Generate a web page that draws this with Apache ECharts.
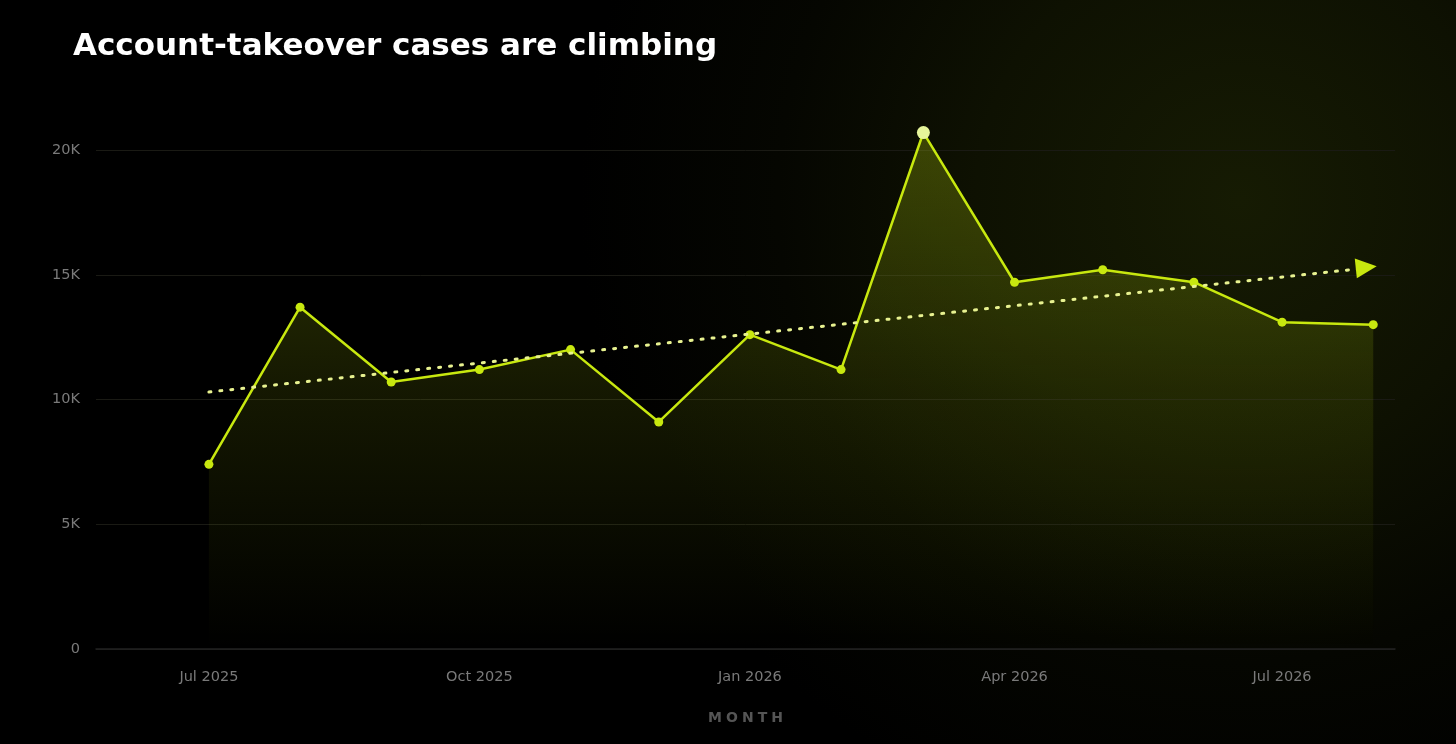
<!DOCTYPE html>
<html>
<head>
    <meta charset="utf-8">
    <title>Account-takeover cases</title>
    <script src="https://cdn.jsdelivr.net/npm/echarts@6.0.0/dist/echarts.min.js"></script>
    <style>
        html, body { margin: 0; padding: 0; background: #000; }
        #chart {
            width: 1456px;
            height: 744px;
            background: radial-gradient(circle 660px at 1240px 200px, #161b03 0%, #0e1102 40%, #050601 70%, #000 100%);
        }
    </style>
</head>
<body>
    <div id="chart"></div>

    <script>
        // monthly data
        const months = ['2025-07-01', '2025-08-01', '2025-09-01', '2025-10-01', '2025-11-01', '2025-12-01',
                        '2026-01-01', '2026-02-01', '2026-03-01', '2026-04-01', '2026-05-01', '2026-06-01',
                        '2026-07-01', '2026-08-01'];
        const cases = [7400, 13700, 10700, 11200, 12000, 9100, 12600, 11200, 20700, 14700, 15200, 14700, 13100, 13000];

        // trend line end points (first and last month)
        const trendMonths = ['2025-07-01', '2026-08-01'];
        const trendValues = [10300, 15300];

        // x axis labels
        const tickMonths = ['2025-07-01', '2025-10-01', '2026-01-01', '2026-04-01', '2026-07-01'];
        const monthNames = ['Jan', 'Feb', 'Mar', 'Apr', 'May', 'Jun', 'Jul', 'Aug', 'Sep', 'Oct', 'Nov', 'Dec'];
        const peakIndex = 8;

        const toTime = s => {
            const p = s.split('-').map(Number);
            return new Date(p[0], p[1] - 1, p[2]).getTime();
        };
        const DAY = 86400000;
        const axisMin = toTime('2025-07-01') - 38.4 * DAY;
        const axisMax = toTime('2026-07-01') + 38.4 * DAY;

        const lime = '#c8e80f';

        const chart = echarts.init(document.getElementById('chart'));

        // letter-spaced axis name, one rich fragment per letter
        const axisName = 'MONTH';
        const spacedName = axisName.split('').map(c => '{s|' + c + '}').join('');

        const option = {
            backgroundColor: 'transparent',
            animation: false,
            title: {
                text: 'Account-takeover cases are climbing',
                left: 68,
                top: 26,
                textStyle: {
                    color: '#ffffff',
                    fontFamily: 'DejaVu Sans',
                    fontWeight: 'bold',
                    fontSize: 31
                }
            },
            grid: { left: 96, right: 61, top: 150, bottom: 95 },
            xAxis: {
                type: 'value',
                min: axisMin,
                max: axisMax,
                name: spacedName,
                nameLocation: 'middle',
                nameGap: 62,
                nameTextStyle: {
                    rich: {
                        s: {
                            color: '#555555',
                            fontFamily: 'DejaVu Sans',
                            fontWeight: 'bold',
                            fontSize: 14,
                            padding: [0, 2, 0, 2]
                        }
                    }
                },
                axisLine: { show: true, lineStyle: { color: '#222222', width: 1.5 } },
                axisTick: { show: false },
                splitLine: { show: false },
                axisLabel: {
                    customValues: tickMonths.map(toTime),
                    margin: 21,
                    color: '#7a7a7a',
                    fontFamily: 'DejaVu Sans',
                    fontSize: 14.5,
                    formatter: v => {
                        const d = new Date(v);
                        return monthNames[d.getMonth()] + ' ' + d.getFullYear();
                    }
                }
            },
            yAxis: {
                type: 'value',
                min: 0,
                max: 20000,
                interval: 5000,
                axisLine: { show: false },
                axisTick: { show: false },
                splitLine: { lineStyle: { color: '#1a1a14', width: 1 } },
                axisLabel: {
                    margin: 16,
                    color: '#7a7a7a',
                    fontFamily: 'DejaVu Sans',
                    fontSize: 14.5,
                    formatter: v => v === 0 ? '0' : (v / 1000) + 'K'
                }
            },
            series: [
                {
                    name: 'Cases',
                    type: 'line',
                    clip: false,
                    z: 3,
                    symbol: 'circle',
                    symbolSize: 9,
                    itemStyle: { color: lime },
                    lineStyle: { color: lime, width: 2.5 },
                    areaStyle: {
                        color: new echarts.graphic.LinearGradient(0, 0, 0, 1, [
                            { offset: 0, color: 'rgba(200,232,15,0.37)' },
                            { offset: 0.5, color: 'rgba(200,232,15,0.15)' },
                            { offset: 1, color: 'rgba(200,232,15,0.0)' }
                        ])
                    },
                    data: months.map((m, i) => {
                        const point = { value: [toTime(m), cases[i]] };
                        if (i === peakIndex) {
                            point.symbolSize = 13;
                            point.itemStyle = { color: '#e6f59a' };
                        }
                        return point;
                    })
                },
                {
                    name: 'Trend',
                    type: 'line',
                    z: 4,
                    clip: false,
                    showSymbol: true,
                    lineStyle: { color: '#e8f290', width: 3, type: [2, 9], cap: 'round' },
                    data: trendMonths.map((m, i) => {
                        const last = i === trendMonths.length - 1;
                        return {
                            value: [toTime(m), trendValues[i]],
                            symbol: last ? 'triangle' : 'none',
                            symbolSize: [20, 21],
                            symbolRotate: -84,
                            symbolOffset: [-7, 0],
                            itemStyle: { color: lime }
                        };
                    })
                }
            ]
        };

        chart.setOption(option);

        window.addEventListener('resize', function () {
            chart.resize();
        });
    </script>
</body>
</html>
